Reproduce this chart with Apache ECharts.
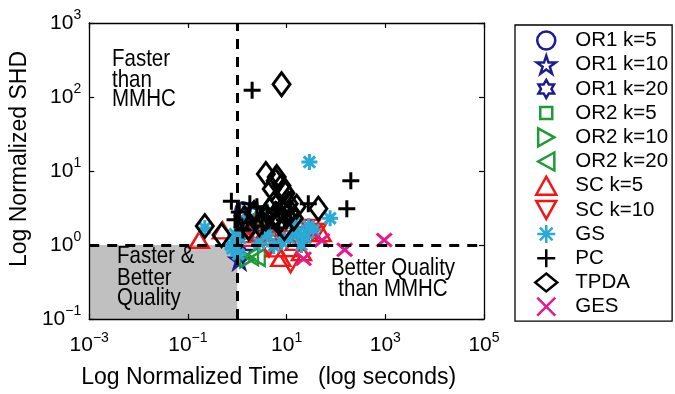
<!DOCTYPE html>
<html>
<head>
<meta charset="utf-8">
<script src="https://cdn.jsdelivr.net/npm/echarts@6/dist/echarts.min.js"></script>
<style>
html,body{margin:0;padding:0;background:#fff;}
#chart{width:675px;height:394px;}
</style>
</head>
<body>
<div id="chart"></div>
<script>
// ---- data: [normalized time, normalized SHD] ----
const seriesNames = ['OR1 k=5','OR1 k=10','OR1 k=20','OR2 k=5','OR2 k=10','OR2 k=20','SC k=5','SC k=10','GS','PC','TPDA','GES'];
const or1k5  = [[2.0,2.5],[3.2,1.9],[1.3,3.0]];
const or1k10 = [[1.1,0.63],[2.5,2.2],[1.6,1.5]];
const or1k20 = [[1.3,0.75],[3.0,1.8],[2.0,2.8]];
const or2k5  = [[2.5,2.0],[4.0,1.6]];
const or2k10 = [[1.6,0.65],[3.5,2.3]];
const or2k20 = [[1.9,0.7],[2.6,0.68],[3.0,2.6]];
const sck5   = [[0.17,1.17],[0.5,1.58],[1.7,1.25],[5,1.3],[7.6,0.67],[11,1.45],[20,0.8],[50,1.45],[30,1.6],[3,1.6],[1.2,1.4],[6,0.9],[15,1.1]];
const sck10  = [[12,0.55],[30,1.7],[40,1.5],[4.4,0.9],[2.2,1.4],[8,1.2],[18,1.1],[25,1.35],[1.4,1.9]];
const gs     = [[29,13.2],[76,2.3],[28,1.8],[35,1.6],[0.22,1.7],[0.8,0.9],[1.15,1.24],[2.8,1.06],[5.5,0.97],[11,1.24],[17,1.45],[14,2.0],[3.2,2.7],[1.6,2.15],[20,1.0],[0.9,1.4],[1.05,0.75],[8,1.1],[24,1.25],[4,1.4],[0.75,1.0]];
const pc     = [[2.0,123],[200,7.4],[166,3.1],[27.5,3.6],[0.76,3.9],[1.1,2.8],[1.6,2.0],[2.5,3.3],[4,2.4],[6,3.0],[9,2.2],[1.3,1.6],[3.2,1.8],[7,1.7],[0.9,2.2],[1.8,3.6],[12,2.9]];
const tpda   = [[7.9,149],[44,3.1],[0.22,1.8],[0.48,1.36],[3.8,9.1],[6.3,8.3],[7.9,6.3],[8.7,5.4],[5.0,5.7],[6.0,7.4],[9.5,5.0],[12,2.8],[5.5,3.6],[11,3.6],[14,2.3],[7,2.0],[3.8,2.3],[2.2,2.7],[1.4,2.3],[8,3.0],[10,2.5],[6,2.6],[4.5,3.0],[16,3.3],[9,1.7],[2.8,1.9],[1.7,1.7]];
const ges    = [[22,0.65],[52,1.15],[150,0.86],[950,1.17]];
const xRange = [0.001, 100000];
const yRange = [0.1, 1000];
const xTicks = [0.001, 0.1, 10, 1000, 100000];
const yTicks = [0.1, 1, 10, 100, 1000];
const refTime = 1, refSHD = 1;   // MMHC reference lines

// ---- styles ----
const FONT = "'Liberation Sans', Arial, Helvetica, sans-serif";
const C = {navy:'#1c1c8e', green:'#1f9a36', red:'#f51414', cyan:'#2aaad6', black:'#000000', mag:'#e6198c'};
const SYM = {
  star: 'path://M10 0L12.25 6.91L19.51 6.91L13.63 11.18L15.88 18.09L10 13.82L4.12 18.09L6.37 11.18L0.49 6.91L7.75 6.91Z',
  hex: 'path://M10 0L12.89 5L18.66 5L15.77 10L18.66 15L12.89 15L10 20L7.11 15L1.34 15L4.23 10L1.34 5L7.11 5Z',
  right: 'path://M0 0L18 10L0 20Z',
  left: 'path://M18 0L0 10L18 20Z',
  up: 'path://M10 0L20 18L0 18Z',
  down: 'path://M0 0L20 0L10 18Z',
  ast: 'path://M10 0L10 20M0 10L20 10M2.93 2.93L17.07 17.07M17.07 2.93L2.93 17.07',
  plus: 'path://M10 0L10 20M0 10L20 10',
  cross: 'path://M0 0L20 20M20 0L0 20',
  smallSquare: 'path://M-4 -3M0 0L12 0L12 12L0 12ZM16 15'
};
const defs = [
  [or1k5,  'circle',  15,      C.navy,  2.5],
  [or1k10, SYM.star,  18,      C.navy,  2.5],
  [or1k20, SYM.hex,   17,      C.navy,  2.5],
  [or2k5,  'rect',    11,      C.green, 2.5],
  [or2k10, SYM.right, [14,17], C.green, 2.5],
  [or2k20, SYM.left,  [14,17], C.green, 2.5],
  [sck5,   SYM.up,    [19,16], C.red,   2.5],
  [sck10,  SYM.down,  [19,16], C.red,   2.5],
  [gs,     SYM.ast,   16,      C.cyan,  3],
  [pc,     SYM.plus,  17,      C.black, 3],
  [tpda,   'diamond', [17,23], C.black, 3],
  [ges,    SYM.cross, [15,13], C.mag,   3]
];

function supLabel(v){
  const e = Math.round(Math.log10(v));
  return '{b|10}{s|' + (e < 0 ? '\u2212' + (-e) : e) + '}';
}
const richSup = {
  b: {fontSize: 21, lineHeight: 21, fontFamily: FONT, color: '#000', verticalAlign: 'bottom'},
  s: {fontSize: 14, lineHeight: 14, fontFamily: FONT, color: '#000', verticalAlign: 'bottom', padding: [0,0,11,0]}
};

const series = [];
series.push({
  type: 'scatter', data: [], silent: true, z: 1,
  markArea: {silent: true, itemStyle: {color: '#c0c0c0'},
    data: [[{coord: [xRange[0], yRange[0]]}, {coord: [refTime, refSHD]}]]}
});
defs.forEach((d, i) => {
  series.push({
    name: seriesNames[i], type: 'scatter', data: d[0], symbol: d[1], symbolSize: d[2],
    silent: true, z: 3,
    itemStyle: {color: 'rgba(0,0,0,0)', borderColor: d[3], borderWidth: d[4], opacity: 1}
  });
});
series.push({
  type: 'scatter', data: [], silent: true, z: 4,
  markLine: {silent: true, symbol: 'none', label: {show: false},
    lineStyle: {color: '#000', width: 3, type: [10, 8]},
    data: [{xAxis: refTime}, {yAxis: refSHD}]}
});

const tickStyle = {show: true, inside: true, length: 5, lineStyle: {color: '#000', width: 1.2}};
const axisCommon = {
  type: 'log', logBase: 10, z: 6,
  axisLine: {show: true, lineStyle: {color: '#000', width: 1.3}},
  splitLine: {show: false}
};

function txt(t, x, y, align){
  return {type: 'text', x: x, y: y, scaleY: 1.15, silent: true, z: 20,
    style: {text: t, fill: '#000', fontSize: 20.5, fontFamily: FONT, align: align || 'left', verticalAlign: 'middle'}};
}

const legendData = seriesNames.map(n => n === 'OR2 k=5' ? {name: n, icon: SYM.smallSquare} : n);

const option = {
  animation: false,
  backgroundColor: '#fff',
  grid: {left: 83, top: 23, width: 401, height: 299, show: false},
  xAxis: [
    Object.assign({}, axisCommon, {
      min: xRange[0], max: xRange[1], position: 'bottom',
      name: 'Log Normalized Time   (log seconds)', nameLocation: 'middle', nameGap: 47,
      nameTextStyle: {fontSize: 23, fontFamily: FONT, color: '#000', padding: [0, 36, 0, 0]},
      axisTick: Object.assign({}, tickStyle, {customValues: xTicks}),
      axisLabel: {customValues: xTicks, margin: 16, formatter: supLabel, rich: richSup}
    }),
    Object.assign({}, axisCommon, {
      min: xRange[0], max: xRange[1], position: 'top',
      axisTick: Object.assign({}, tickStyle, {customValues: xTicks}),
      axisLabel: {show: false}
    })
  ],
  yAxis: [
    Object.assign({}, axisCommon, {
      min: yRange[0], max: yRange[1], position: 'left',
      name: 'Log Normalized SHD', nameLocation: 'middle', nameGap: 50,
      nameTextStyle: {fontSize: 23, fontFamily: FONT, color: '#000', padding: [0, 0, 0, 24]},
      axisTick: Object.assign({}, tickStyle, {customValues: yTicks}),
      axisLabel: {customValues: yTicks, margin: 8, formatter: supLabel, rich: richSup}
    }),
    Object.assign({}, axisCommon, {
      min: yRange[0], max: yRange[1], position: 'right',
      axisTick: Object.assign({}, tickStyle, {customValues: yTicks}),
      axisLabel: {show: false}
    })
  ],
  legend: {
    orient: 'vertical', left: 515, top: 25, data: legendData, selectedMode: false,
    padding: [5, 4, 4, 19], itemGap: 3.2, itemWidth: 22, itemHeight: 18,
    borderColor: '#000', borderWidth: 1.3, backgroundColor: '#fff',
    textStyle: {fontSize: 20.5, fontFamily: FONT, color: '#000', lineHeight: 20, padding: [0, 0, 0, 13]},
    itemStyle: {borderWidth: 2.5}
  },
  graphic: [
    txt('Faster', 112, 59), txt('than', 112, 80), txt('MMHC', 112, 99.5),
    txt('Faster &', 117, 256), txt('Better', 117, 278), txt('Quality', 117, 298),
    txt('Better Quality', 393, 268, 'center'), txt('than MMHC', 393, 289, 'center')
  ],
  series: series
};

const chart = echarts.init(document.getElementById('chart'), null, {renderer: 'canvas'});
chart.setOption(option);
</script>
</body>
</html>
